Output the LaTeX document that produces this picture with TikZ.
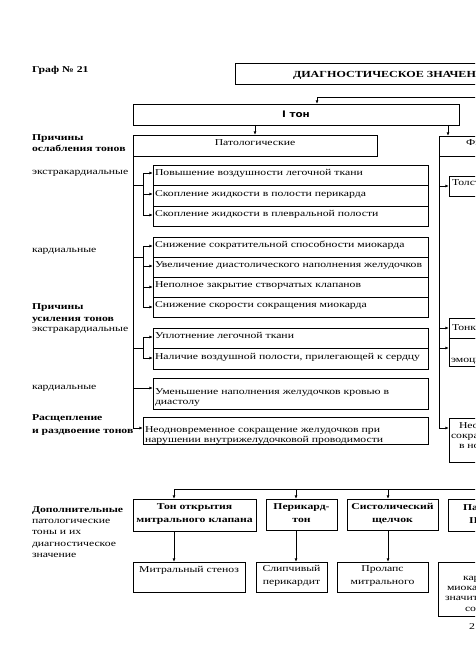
\documentclass[tikz,border=0pt]{standalone}
\usepackage{fontspec}
\setmainfont[FakeStretch=1.3]{Liberation Serif}
\newfontfamily\tonfont[FakeStretch=1.15]{DejaVu Sans}
\usetikzlibrary{arrows.meta}
\begin{document}
\begin{tikzpicture}[x=1pt,y=-1pt,
  every node/.style={font=\fontsize{9}{10.7}\selectfont, inner sep=0pt, outer sep=0pt},
  box/.style={draw, line width=0.85pt},
  rowbase/.style={box, anchor=north west, minimum width=275pt, text width=271pt, inner xsep=2pt, align=left},
  rowbox/.style={rowbase, text height=6.5pt, text depth=6pt},
  ln/.style={line width=0.85pt},
  arr/.style={line width=0.85pt, -{Latex[length=3.6pt,width=2.8pt]}},
  lbl/.style={anchor=base west, align=left},
  bl/.style={font=\fontsize{9}{11}\selectfont\bfseries},
  txt/.style={anchor=base west},
  btxt/.style={anchor=base west, font=\fontsize{9}{11}\selectfont\bfseries},
  ubox/.style={box, anchor=north west, align=center, font=\fontsize{9}{13}\selectfont\bfseries, text depth=3.5pt},
  lbox/.style={box, anchor=north west, align=center, font=\fontsize{9}{13}\selectfont, text depth=3.5pt},
]
\useasboundingbox (0,0) rectangle (475,671);
\fill[white] (0,0) rectangle (475,671);
\clip (0,0) rectangle (475,671);

% title
\node[lbl, bl] (graf) at (32,73) {Граф № 21};

% top box
\node[box, anchor=north west, minimum width=400pt, minimum height=21pt] (top) at (235,63) {};
\node[txt, font=\fontsize{9.3}{10}\selectfont\bfseries] (toptxt) at (293,77.5) {ДИАГНОСТИЧЕСКОЕ ЗНАЧЕНИЕ ТОНОВ СЕРДЦА};

% I ton
\node[box, anchor=north west, minimum width=326pt, minimum height=21pt, font=\tonfont\bfseries\fontsize{9}{10}\selectfont] (ton) at (133,104) {I тон};
\coordinate (feed) at (700,97);
\draw[arr] (feed) -| (ton.north -| 317,0);

% headers
\node[box, anchor=north west, minimum width=244pt, minimum height=21pt, text height=6.5pt, text depth=6.5pt] (pat) at (133,135) {Патологические};
\node[box, anchor=north west, minimum width=300pt, minimum height=20pt] (fiz) at (439,136) {};
\node[txt] (fiztxt) at (466,146) {Физиологические};
\draw[arr] (ton.south -| 255,0) -- (pat.north -| 255,0);
\draw[arr] (ton.south -| 448,0) -- (fiz.north -| 448,0);

% left labels (anchor = baseline of last line)
\node[lbl, bl] (l1) at (32,151.5) {Причины\\ослабления тонов};
\node[lbl] (l2) at (32,174.5) {экстракардиальные};
\node[lbl] (l3) at (32,252.5) {кардиальные};
\node[lbl, font=\fontsize{9}{12}\selectfont\bfseries] (l4) at (32,321.5) {Причины\\усиления тонов};
\node[lbl] (l5) at (32,331.5) {экстракардиальные};
\node[lbl] (l6) at (32,389.5) {кардиальные};
\node[lbl, font=\fontsize{9}{12.5}\selectfont\bfseries] (l7) at (32,433) {Расщепление\\и раздвоение тонов};

% group 1
\node[rowbox, minimum height=20.3pt] (a1) at (153,165.5) {Повышение воздушности легочной ткани};
\node[rowbox, minimum height=20.3pt] (a2) at (153,185.8) {Скопление жидкости в полости перикарда};
\node[rowbox, minimum height=20.3pt] (a3) at (153,206.1) {Скопление жидкости в плевральной полости};
\coordinate (ja) at (143,185);
\draw[ln] (pat.south west |- ja) -- (ja);
\draw[ln] (143,173) -- (143,215);
\draw[arr] (143,173) -- (a1.west |- 143,173);
\draw[arr] (143,194) -- (a2.west |- 143,194);
\draw[arr] (143,215) -- (a3.west |- 143,215);

% group 2
\node[rowbox, minimum height=20pt] (b1) at (153,237) {Снижение сократительной способности миокарда};
\node[rowbox, minimum height=20pt] (b2) at (153,257) {Увеличение диастолического наполнения желудочков};
\node[rowbox, minimum height=20pt] (b3) at (153,277) {Неполное закрытие створчатых клапанов};
\node[rowbox, minimum height=20pt] (b4) at (153,297) {Снижение скорости сокращения миокарда};
\coordinate (jb) at (143,257);
\draw[ln] (pat.south west |- jb) -- (jb);
\draw[ln] (143,246) -- (143,307);
\draw[arr] (143,246) -- (b1.west |- 143,246);
\draw[arr] (143,266) -- (b2.west |- 143,266);
\draw[arr] (143,287) -- (b3.west |- 143,287);
\draw[arr] (143,307) -- (b4.west |- 143,307);

% group 3
\node[rowbox, minimum height=20.5pt] (c1) at (153,328) {Уплотнение легочной ткани};
\node[rowbox, minimum height=20.5pt] (c2) at (153,348.5) {Наличие воздушной полости, прилегающей к сердцу};
\coordinate (jc) at (143,348);
\draw[ln] (pat.south west |- jc) -- (jc);
\draw[ln] (143,337) -- (143,358);
\draw[arr] (143,337) -- (c1.west |- 143,337);
\draw[arr] (143,358) -- (c2.west |- 143,358);

% box 4, 5
\node[rowbase, minimum height=31pt, text depth=4.8pt] (d1) at (153,378) {Уменьшение наполнения желудочков кровью в\\диастолу};
\draw[arr] (pat.south west |- 133,388) -- (d1.west |- 133,388);
\node[rowbase, minimum height=27pt, minimum width=285pt, text width=281pt, text depth=2.8pt] (e1) at (143,417) {Неодновременное сокращение желудочков при\\нарушении внутрижелудочковой проводимости};
\draw[arr] (pat.south west) -- (133,428) -- (e1.west |- 133,428);

% right column
\node[box, anchor=north west, minimum width=300pt, minimum height=20pt] (f1) at (449,176) {};
\node[txt] (f1t) at (452,185) {Толстая грудная стенка};
\node[box, anchor=north west, minimum width=300pt, minimum height=20pt] (f2) at (449,318) {};
\node[txt] (f2t) at (452,330.5) {Тонкая грудная стенка};
\node[box, anchor=north west, minimum width=300pt, minimum height=28pt] (f3) at (449,338) {};
\node[txt] (f3t) at (451,362) {эмоциональное возбуждение};
\node[box, anchor=north west, minimum width=300pt, minimum height=44pt] (rn) at (449,418) {};
\node[txt] (rn1) at (459,428.5) {Неодновременное};
\node[txt] (rn2) at (451,438.5) {сокращение желудочков};
\node[txt] (rn3) at (459,448.5) {в норме};
\draw[arr] (fiz.south west) -- (439,428) -- (rn.west |- 439,428);
\draw[arr] (439,186) -- (f1.west |- 439,186);
\draw[arr] (439,328) -- (f2.west |- 439,328);
\draw[arr] (439,348) -- (f3.west |- 439,348);

% bottom section
\node[lbl, font=\fontsize{9}{11.2}\selectfont] (l8) at (32,557.3) {\textbf{Дополнительные}\\патологические\\тоны и их\\диагностическое\\значение};
\coordinate (hb) at (700,489);
\node[ubox, minimum width=123pt, minimum height=32pt] (u1) at (133,499) {Тон открытия\\митрального клапана};
\node[ubox, minimum width=71pt, minimum height=31pt] (u2) at (266,499) {Перикард-\\тон};
\node[ubox, minimum width=91pt, minimum height=31pt] (u3) at (347,499) {Систолический\\щелчок};
\node[box, anchor=north west, minimum width=300pt, minimum height=32pt] (u4) at (448,499) {};
\node[btxt] (u4a) at (463,510.5) {Патологический};
\node[btxt] (u4b) at (469,523.5) {III тон};
\draw[ln] (hb) -- (174,489);
\draw[arr] (174,489) -- (u1.north -| 174,0);
\draw[arr] (296,489) -- (u2.north -| 296,0);
\draw[arr] (388,489) -- (u3.north -| 388,0);

\node[lbox, minimum width=112pt, minimum height=30pt, text height=6.5pt, text depth=16.5pt] (v1) at (133,562) {Митральный стеноз};
\node[lbox, minimum width=71pt, minimum height=30pt] (v2) at (256,562) {Слипчивый\\перикардит};
\node[lbox, minimum width=91pt, minimum height=30pt] (v3) at (337,562) {Пролапс\\митрального};
\node[box, anchor=north west, minimum width=300pt, minimum height=54pt] (v4) at (438,562) {};
\node[txt] (v4a) at (463,580.5) {кардиосклероз,};
\node[txt] (v4b) at (447,590.5) {миокардит, инфаркт};
\node[txt] (v4c) at (445,600.5) {значительное снижение};
\node[txt] (v4d) at (465,611) {сократимости};
\draw[arr] (u1.south -| 174,0) -- (v1.north -| 174,0);
\draw[arr] (u2.south -| 296,0) -- (v2.north -| 296,0);
\draw[arr] (u3.south -| 388,0) -- (v3.north -| 388,0);

\node[txt] (pg) at (469,629) {2};
\end{tikzpicture}
\end{document}
